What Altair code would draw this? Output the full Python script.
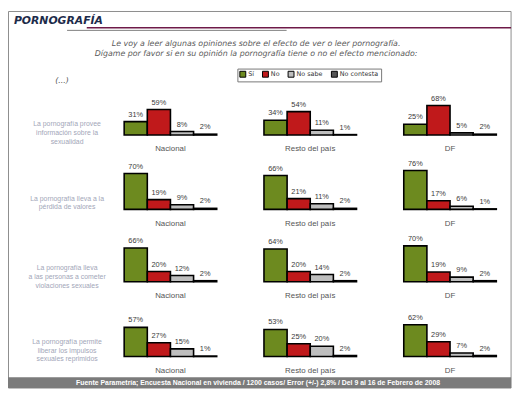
import altair as alt
import pandas as pd

# ---------------- data ----------------
statements = [
    "La pornografía provee\ninformación sobre la\nsexualidad",
    "La pornografía lleva a la\npérdida de valores",
    "La pornografía lleva\na las personas a cometer\nviolaciones sexuales",
    "La pornografía permite\nliberar los impulsos\nsexuales reprimidos",
]
regions = ["Nacional", "Resto del país", "DF"]
responses = ["Sí", "No", "No sabe", "No contesta"]
colors = ["#6d8a1f", "#c0191b", "#bebebe", "#555555"]

provee_informacion = [[31, 59, 8, 2], [34, 54, 11, 1], [25, 68, 5, 2]]
perdida_valores = [[70, 19, 9, 2], [66, 21, 11, 2], [76, 17, 6, 1]]
violaciones = [[66, 20, 12, 2], [64, 20, 14, 2], [70, 19, 9, 2]]
liberar_impulsos = [[57, 27, 15, 1], [53, 25, 20, 2], [62, 29, 7, 2]]
all_rows = [provee_informacion, perdida_valores, violaciones, liberar_impulsos]

title_text = "PORNOGRAFÍA"
subtitle_1 = "Le voy a leer algunas opiniones sobre el efecto de ver o leer pornografía."
subtitle_2 = "Dígame por favor si en su opinión la pornografía tiene o no el efecto mencionado:"
footer_text = ("Fuente Parametría; Encuesta Nacional en vivienda / 1200 casos/ "
               "Error (+/-) 2,8% / Del 9 al 16 de Febrero de 2008")

# ---------------- layout (pixels, chart-local) ----------------
W, H = 516, 386
baselines = [126, 201.5, 275, 351]
px_per_pct = [0.44, 0.52, 0.52, 0.52]
label_centers = [115, 190.5, 261, 336]

FONT = "Liberation Sans"

def one():
    return pd.DataFrame({"d": [0]})

x_enc = alt.X("region:N", sort=regions, axis=None,
              scale=alt.Scale(domain=regions, range=[118, 496],
                              paddingInner=0.338, paddingOuter=0))
xo_enc = alt.XOffset("response:N", sort=responses,
                     scale=alt.Scale(domain=responses, paddingInner=0, paddingOuter=0))
color_enc = alt.Color(
    "response:N", sort=responses,
    scale=alt.Scale(domain=responses, range=colors),
    legend=alt.Legend(
        title=None, orient="none", legendX=233, legendY=58.5, direction="horizontal",
        columns=4, symbolType="square", symbolSize=36, symbolStrokeColor="black",
        symbolStrokeWidth=1, labelFont="DejaVu Sans", labelFontSize=6.5, labelColor="#333",
        labelOffset=2, columnPadding=6, padding=2, strokeColor="#777", fillColor="white",
        symbolOffset=0,
    ),
)

layers = []

# outer border
layers.append(alt.Chart(one()).mark_rect(fill="white", stroke="#8c8c8c", strokeWidth=1).encode(
    x=alt.value(0.5), x2=alt.value(511), y=alt.value(0.5), y2=alt.value(383)))

# title and lines
layers.append(alt.Chart(pd.DataFrame({"t": [title_text]})).mark_text(
    font="DejaVu Sans", fontSize=11, fontWeight="bold", fontStyle="italic",
    color="#1d2b4a", align="left", baseline="alphabetic").encode(
    text="t:N", x=alt.value(6), y=alt.value(13)))
layers.append(alt.Chart(one()).mark_rule(color="#6e1a48", strokeWidth=1.5).encode(
    x=alt.value(80), x2=alt.value(511), y=alt.value(17)))
layers.append(alt.Chart(one()).mark_rule(color="#808080", strokeWidth=1).encode(
    x=alt.value(60), x2=alt.value(283), y=alt.value(19.7)))

# subtitle
for txt, yy in [(subtitle_1, 36), (subtitle_2, 46)]:
    layers.append(alt.Chart(pd.DataFrame({"t": [txt]})).mark_text(
        font="DejaVu Sans", fontSize=8, fontStyle="italic", color="#5a5a5a",
        align="center", baseline="alphabetic").encode(
        text="t:N", x=alt.value(252), y=alt.value(yy)))

layers.append(alt.Chart(pd.DataFrame({"t": ["(...)"]})).mark_text(
    font="DejaVu Sans", fontSize=8, fontStyle="italic", color="#555",
    align="left", baseline="middle").encode(
    text="t:N", x=alt.value(48), y=alt.value(71)))

# rows of bars
for r, row_vals in enumerate(all_rows):
    recs = []
    for g, reg in enumerate(regions):
        for k, resp in enumerate(responses):
            v = row_vals[g][k]
            recs.append({"region": reg, "response": resp, "value": v, "label": f"{v}%"})
    df = pd.DataFrame(recs)
    base = baselines[r]
    y_enc = alt.Y("value:Q", axis=None,
                  scale=alt.Scale(domain=[0, 100], range=[base, base - 100 * px_per_pct[r]],
                                  nice=False, zero=True))
    bars = alt.Chart(df).mark_bar(stroke="black", strokeWidth=1.6).encode(
        x=x_enc, xOffset=xo_enc, y=y_enc, color=color_enc)
    labels = alt.Chart(df).mark_text(
        font=FONT, fontSize=7.5, color="#3a3a3a", baseline="bottom", dy=-3).encode(
        x=x_enc, xOffset=xo_enc, y=y_enc, text="label:N")
    reg_labels = alt.Chart(pd.DataFrame({"region": regions})).mark_text(
        font=FONT, fontSize=8, color="#555", baseline="middle").encode(
        x=x_enc, y=alt.value(base + 14.5), text="region:N")
    row_label = alt.Chart(pd.DataFrame({"t": [statements[r]]})).mark_text(
        font=FONT, fontSize=7, color="#a2a6b8", align="center", baseline="middle",
        lineBreak="\n", lineHeight=9).encode(
        text="t:N", x=alt.value(60), y=alt.value(label_centers[r]))
    layers += [bars, labels, reg_labels, row_label]

# footer
layers.append(alt.Chart(one()).mark_rect(fill="#7b7b7b").encode(
    x=alt.value(0), x2=alt.value(511), y=alt.value(372), y2=alt.value(383)))
layers.append(alt.Chart(pd.DataFrame({"t": [footer_text]})).mark_text(
    font=FONT, fontSize=7, fontWeight="bold", color="white",
    align="center", baseline="middle").encode(
    text="t:N", x=alt.value(254), y=alt.value(377.5)))

chart = alt.layer(*layers).resolve_scale(y="independent").properties(
    width=W, height=H, autosize=alt.AutoSizeParams(type="none"), padding=0,
    background="white",
).configure_view(stroke=None)

chart.save("out.html", embed_options={"renderer": "svg", "actions": False})
